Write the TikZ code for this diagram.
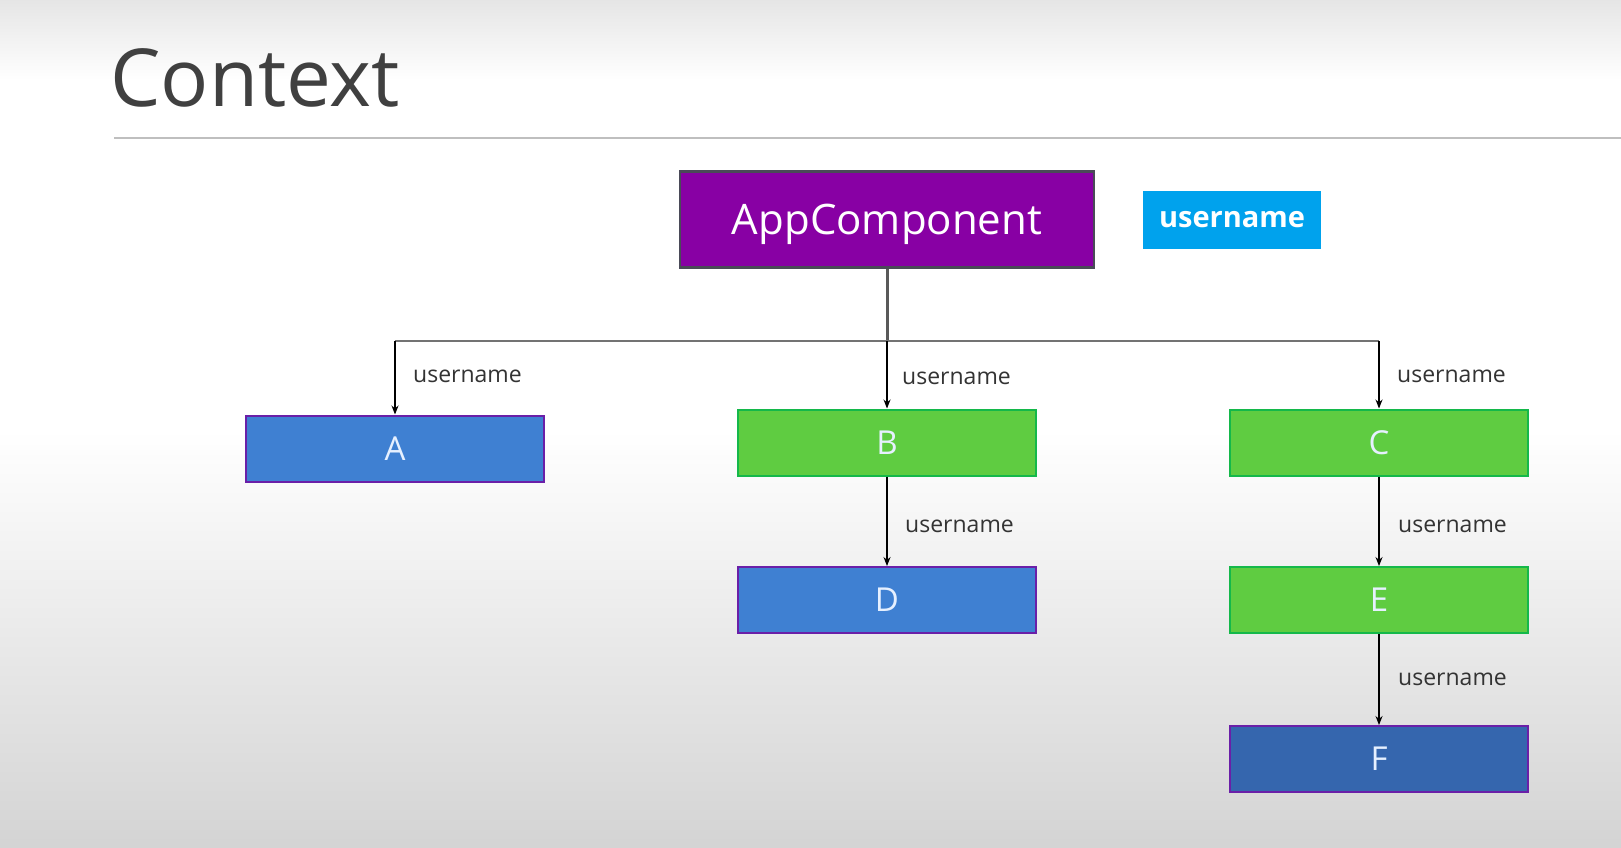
\documentclass[tikz,border=0pt]{standalone}
\usepackage{fontspec}
\setmainfont{Open Sans}
\usetikzlibrary{arrows.meta}
\definecolor{appfill}{HTML}{8800A4}
\definecolor{appedge}{HTML}{4A4A58}
\definecolor{badgefill}{HTML}{00A2ED}
\definecolor{bluefill}{HTML}{3F80D2}
\definecolor{darkbluefill}{HTML}{3566AE}
\definecolor{blueedge}{HTML}{6A1FA8}
\definecolor{greenfill}{HTML}{5FCC41}
\definecolor{greenedge}{HTML}{14B84A}
\definecolor{lettertext}{HTML}{E6F0FF}
\definecolor{labeltext}{HTML}{333333}
\definecolor{titletext}{HTML}{404040}
\begin{document}
\begin{tikzpicture}[x=1pt,y=-1pt,
  comp/.style={minimum width=298pt,minimum height=66pt,inner sep=0pt,line width=2pt,
    font=\fontsize{33}{33}\selectfont,text=lettertext,text height=23.6pt,text depth=0pt},
  bluecomp/.style={comp,draw=blueedge,fill=bluefill},
  greencomp/.style={comp,draw=greenedge,fill=greenfill},
  flow/.style={line width=1.2pt,draw=black,-{Stealth[length=9pt,width=7pt]}},
  bus/.style={line width=2pt,draw=black!55},
  lbl/.style={anchor=west,inner sep=0pt,text=labeltext,font=\fontsize{23}{23}\selectfont}]
% page background with soft vertical shading
\useasboundingbox (0,0) rectangle (1621,847);
\fill[white] (0,0) rectangle (1621,847);
\shade[top color=black!10,bottom color=white] (0,0) rectangle (1621,80);
\shade[top color=white,bottom color=black!17] (0,430) rectangle (1621,847);
% title and rule
\node[anchor=base west,inner sep=0pt,text=titletext,font=\fontsize{80}{80}\selectfont] (title) at (110,106) {Context};
\draw[line width=2pt,draw=black!25] (114,138) -- (1621,138);
% root component and its state
\node[draw=appedge,fill=appfill,line width=2.5pt,minimum width=414pt,minimum height=96pt,inner sep=0pt,
  text=white,font=\fontsize{42}{42}\selectfont,text height=30pt,text depth=0pt] (app) at (887,219.5) {AppComponent};
\node[fill=badgefill,minimum width=178pt,minimum height=58pt,inner sep=0pt,text=white,
  font=\fontsize{29}{29}\selectfont\bfseries,text height=15.5pt,text depth=0pt] (state) at (1232,220) {username};
% child components
\node[bluecomp] (A) at (395,448.5) {A};
\node[greencomp] (B) at (887,442.5) {B};
\node[greencomp] (C) at (1379,442.5) {C};
\node[bluecomp] (D) at (887,600) {D};
\node[greencomp] (E) at (1379,600) {E};
\node[bluecomp,fill=darkbluefill] (F) at (1379,759) {F};
% distribution tree
\coordinate (split) at (887,341);
\coordinate (ja) at (A.north |- split);
\coordinate (jc) at (C.north |- split);
\draw[line width=3pt,draw=black!65] (app.south) -- (split);
\draw[bus] (ja) -- (jc);
\draw[flow] (ja) -- (A.north);
\draw[flow] (split) -- (B.north);
\draw[flow] (jc) -- (C.north);
\draw[flow] (B.south) -- (D.north);
\draw[flow] (C.south) -- (E.north);
\draw[flow] (E.south) -- (F.north);
% prop labels
\node[lbl] (la) at (413,376) {username};
\node[lbl] (lb) at (902,378) {username};
\node[lbl] (lc) at (1397,376) {username};
\node[lbl] (ld) at (905,526) {username};
\node[lbl] (le) at (1398,526) {username};
\node[lbl] (lf) at (1398,679) {username};
\end{tikzpicture}
\end{document}
